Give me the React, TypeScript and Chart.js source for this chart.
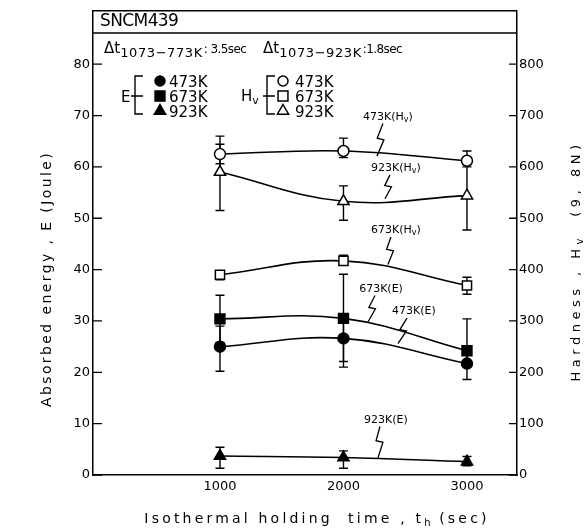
import React, { useEffect, useRef } from 'react';
import { Chart, registerables } from 'chart.js';

Chart.register(...registerables);

// ---------- data ----------
const times = [1000, 2000, 3000];
const xTicks = [1000, 2000, 3000];
const eTicks = [0, 10, 20, 30, 40, 50, 60, 70, 80];
const hvTicks = [0, 100, 200, 300, 400, 500, 600, 700, 800];

// Absorbed energy E (Joule)
const e473 = [25.0, 26.6, 21.7];
const e473Lo = [20.2, 21.0, 18.6];
const e473Hi = [29.0, 30.0, 24.0];
const e673 = [30.4, 30.5, 24.2];
const e673Lo = [25.8, 22.1, 21.5];
const e673Hi = [35.0, 39.1, 30.4];
const e923 = [3.7, 3.4, 2.6];
const e923Lo = [1.3, 1.3, 1.8];
const e923Hi = [5.4, 4.7, 3.6];

// Hardness Hv
const hv473 = [625, 631, 612];
const hv473Lo = [606, 618, 600];
const hv473Hi = [660, 656, 631];
const hv673 = [390, 417, 369];
const hv673Lo = [380, 409, 352];
const hv673Hi = [398, 428, 385];
const hv923 = [590, 533, 544];
const hv923Lo = [515, 496, 477];
const hv923Hi = [644, 563, 611];

const legendTemps = ['473K', '673K', '923K'];

// ---------- styling / layout ----------
const FONT = '"DejaVu Sans"';
const X_MIN = -28;
const X_MAX = 3405;
const E_MAX = 90.4;
const HV_MAX = 904;

type Series = {
  vals: number[];
  lo: number[];
  hi: number[];
  axis: 'y' | 'y1';
  style: 'circle' | 'rect' | 'triangle';
  filled: boolean;
  r: number;
};

const series: Series[] = [
  { vals: hv473, lo: hv473Lo, hi: hv473Hi, axis: 'y1', style: 'circle', filled: false, r: 5.5 },
  { vals: hv923, lo: hv923Lo, hi: hv923Hi, axis: 'y1', style: 'triangle', filled: false, r: 6.5 },
  { vals: hv673, lo: hv673Lo, hi: hv673Hi, axis: 'y1', style: 'rect', filled: false, r: 6.5 },
  { vals: e673, lo: e673Lo, hi: e673Hi, axis: 'y', style: 'rect', filled: true, r: 7 },
  { vals: e473, lo: e473Lo, hi: e473Hi, axis: 'y', style: 'circle', filled: true, r: 5.5 },
  { vals: e923, lo: e923Lo, hi: e923Hi, axis: 'y', style: 'triangle', filled: true, r: 6.5 },
];

// annotation labels: label centre (time, E-units), leader end on curve (time, E-units)
type Ann = { main: string; sub: string; lx: number; ly: number; ex: number; ey: number; sdx: number };
const annotations: Ann[] = [
  { main: '473K(H', sub: 'v', lx: 2360, ly: 70.0, ex: 2271, ey: 62.1, sdx: -5 },
  { main: '923K(H', sub: 'v', lx: 2425, ly: 60.0, ex: 2336, ey: 53.8, sdx: -6 },
  { main: '673K(H', sub: 'v', lx: 2425, ly: 47.9, ex: 2360, ey: 41.0, sdx: -5 },
  { main: '673K(E', sub: '', lx: 2304, ly: 36.5, ex: 2198, ey: 29.8, sdx: -6 },
  { main: '473K(E', sub: '', lx: 2571, ly: 32.1, ex: 2441, ey: 25.6, sdx: -7 },
  { main: '923K(E', sub: '', lx: 2344, ly: 11.0, ex: 2279, ey: 3.3, sdx: -6 },
];

type Run = { t: string; size: number; dy?: number; ls?: number };

function setRun(ctx: CanvasRenderingContext2D, r: Run) {
  ctx.font = `${r.size}px ${FONT}`;
  (ctx as any).letterSpacing = `${r.ls || 0}px`;
}
function runsWidth(ctx: CanvasRenderingContext2D, runs: Run[]) {
  let w = 0;
  for (const r of runs) {
    setRun(ctx, r);
    w += ctx.measureText(r.t).width;
  }
  (ctx as any).letterSpacing = '0px';
  return w;
}
function drawRuns(ctx: CanvasRenderingContext2D, x: number, y: number, runs: Run[]) {
  let cx = x;
  for (const r of runs) {
    setRun(ctx, r);
    ctx.fillText(r.t, cx, y + (r.dy || 0));
    cx += ctx.measureText(r.t).width;
  }
  (ctx as any).letterSpacing = '0px';
  return cx;
}

function drawMarker(ctx: CanvasRenderingContext2D, style: string, x: number, y: number, r: number, filled: boolean) {
  ctx.save();
  ctx.beginPath();
  if (style === 'circle') {
    ctx.arc(x, y, r, 0, Math.PI * 2);
  } else if (style === 'rect') {
    const s = r * Math.SQRT1_2;
    ctx.rect(x - s, y - s, 2 * s, 2 * s);
  } else {
    const h = r;
    ctx.moveTo(x, y - h);
    ctx.lineTo(x + h * 0.866, y + h * 0.5);
    ctx.lineTo(x - h * 0.866, y + h * 0.5);
    ctx.closePath();
  }
  ctx.fillStyle = filled ? '#000' : '#fff';
  ctx.fill();
  ctx.lineWidth = 1.5;
  ctx.strokeStyle = '#000';
  ctx.stroke();
  ctx.restore();
}

const errorBarPlugin = {
  id: 'errorBars',
  beforeDatasetsDraw(chart: any) {
    const ctx: CanvasRenderingContext2D = chart.ctx;
    const xs = chart.scales.x;
    ctx.save();
    ctx.strokeStyle = '#000';
    ctx.lineWidth = 1.4;
    series.forEach((s) => {
      const ys = chart.scales[s.axis];
      times.forEach((t, i) => {
        const px = xs.getPixelForValue(t);
        const y1 = ys.getPixelForValue(s.lo[i]);
        const y2 = ys.getPixelForValue(s.hi[i]);
        ctx.beginPath();
        ctx.moveTo(px, y1);
        ctx.lineTo(px, y2);
        ctx.moveTo(px - 4.5, y1);
        ctx.lineTo(px + 4.5, y1);
        ctx.moveTo(px - 4.5, y2);
        ctx.lineTo(px + 4.5, y2);
        ctx.stroke();
      });
    });
    ctx.restore();
  },
};

const decorPlugin = {
  id: 'decor',
  afterDraw(chart: any) {
    const ctx: CanvasRenderingContext2D = chart.ctx;
    const { left, right, top } = chart.chartArea;
    const xs = chart.scales.x;
    const ys = chart.scales.y;
    const ys1 = chart.scales.y1;
    ctx.save();
    ctx.strokeStyle = '#000';
    ctx.fillStyle = '#000';
    ctx.lineWidth = 1.5;

    // frame top + header row
    ctx.beginPath();
    ctx.moveTo(left, top);
    ctx.lineTo(right, top);
    ctx.moveTo(left, 33);
    ctx.lineTo(right, 33);
    ctx.stroke();

    // inward ticks
    ctx.lineWidth = 1.3;
    ctx.beginPath();
    eTicks.forEach((v) => {
      const py = ys.getPixelForValue(v);
      ctx.moveTo(left, py);
      ctx.lineTo(left + 9, py);
    });
    hvTicks.forEach((v) => {
      const py = ys1.getPixelForValue(v);
      ctx.moveTo(right, py);
      ctx.lineTo(right - 8, py);
    });
    ctx.stroke();

    ctx.textBaseline = 'alphabetic';
    ctx.textAlign = 'left';

    // header
    drawRuns(ctx, 100, 26, [{ t: 'SNCM439', size: 17, ls: -0.6 }]);
    let x = drawRuns(ctx, 104, 53, [{ t: 'Δt', size: 15 }]);
    x = drawRuns(ctx, x, 53, [{ t: '1073−773K', size: 13, dy: 4, ls: 0.6 }]);
    drawRuns(ctx, x + 1, 53, [{ t: ': 3.5sec', size: 12, ls: -0.6 }]);
    x = drawRuns(ctx, 263, 53, [{ t: 'Δt', size: 15 }]);
    x = drawRuns(ctx, x, 53, [{ t: '1073−923K', size: 13, dy: 4, ls: 0.6 }]);
    drawRuns(ctx, x + 1, 53, [{ t: ':1.8sec', size: 12, ls: -0.6 }]);

    // legend
    const rowY = [81, 96, 111];
    const styles = ['circle', 'rect', 'triangle'];
    drawRuns(ctx, 121, 102, [{ t: 'E', size: 15 }]);
    drawRuns(ctx, 241, 101, [{ t: 'H', size: 15 }, { t: 'v', size: 11, dy: 3 }]);
    const bracket = (bx: number) => {
      ctx.beginPath();
      ctx.moveTo(bx + 8, 76);
      ctx.lineTo(bx, 76);
      ctx.lineTo(bx, 114);
      ctx.lineTo(bx + 8, 114);
      ctx.moveTo(bx - 4, 96);
      ctx.lineTo(bx + 8, 96);
      ctx.stroke();
    };
    ctx.lineWidth = 1.4;
    bracket(135);
    bracket(267);
    rowY.forEach((ry, i) => {
      const r = styles[i] === 'rect' ? 7 : styles[i] === 'triangle' ? 6.5 : 5;
      drawMarker(ctx, styles[i], 160, ry, r, true);
      drawMarker(ctx, styles[i], 283, ry, r, false);
      ctx.fillStyle = '#000';
      drawRuns(ctx, 169, ry + 6, [{ t: legendTemps[i], size: 15 }]);
      drawRuns(ctx, 295, ry + 6, [{ t: legendTemps[i], size: 15 }]);
    });

    // annotations with lightning leaders
    annotations.forEach((a) => {
      const cx = xs.getPixelForValue(a.lx);
      const cy = ys.getPixelForValue(a.ly);
      const runs: Run[] = [{ t: a.main, size: 11 }];
      if (a.sub) runs.push({ t: a.sub, size: 8, dy: 2 });
      runs.push({ t: ')', size: 11 });
      const w = runsWidth(ctx, runs);
      drawRuns(ctx, cx - w / 2, cy + 4, runs);
      const sx = cx + a.sdx;
      const sy = cy + 8;
      const ex = xs.getPixelForValue(a.ex);
      const ey = ys.getPixelForValue(a.ey);
      const dx = ex - sx;
      const dy = ey - sy;
      ctx.beginPath();
      ctx.lineWidth = 1.3;
      ctx.moveTo(sx, sy);
      ctx.lineTo(sx + dx * 0.45 - 3, sy + dy * 0.45);
      ctx.lineTo(sx + dx * 0.5 + 4, sy + dy * 0.5);
      ctx.lineTo(ex, ey);
      ctx.stroke();
    });

    // axis titles
    const leftRuns: Run[] = [{ t: 'Absorbed energy , E (Joule)', size: 14, ls: 2.4 }];
    ctx.save();
    ctx.translate(46, 279);
    ctx.rotate(-Math.PI / 2);
    drawRuns(ctx, -runsWidth(ctx, leftRuns) / 2, 5, leftRuns);
    ctx.restore();

    const rightRuns: Run[] = [
      { t: 'Hardness , H', size: 13, ls: 4.5 },
      { t: 'v', size: 10, dy: 3, ls: 4.5 },
      { t: '  (9, 8N)', size: 13, ls: 4.5 },
    ];
    ctx.save();
    ctx.translate(575, 261);
    ctx.rotate(-Math.PI / 2);
    drawRuns(ctx, -runsWidth(ctx, rightRuns) / 2, 5, rightRuns);
    ctx.restore();

    const bottomRuns: Run[] = [
      { t: 'Isothermal holding  time , t', size: 14, ls: 3.2 },
      { t: 'h', size: 10, dy: 3, ls: 1 },
      { t: ' (sec)', size: 14, ls: 3.2 },
    ];
    drawRuns(ctx, 317 - runsWidth(ctx, bottomRuns) / 2, 523, bottomRuns);

    ctx.restore();
  },
};

export default function App() {
  const ref = useRef<HTMLCanvasElement | null>(null);

  useEffect(() => {
    if (!ref.current) return;
    const datasets = series.map((s) => ({
      data: times.map((t, i) => ({ x: t, y: s.vals[i] })),
      yAxisID: s.axis,
      borderColor: '#000',
      borderWidth: 1.6,
      tension: 0.4,
      fill: false,
      pointStyle: s.style,
      pointRadius: s.r,
      pointHoverRadius: s.r,
      pointBackgroundColor: s.filled ? '#000' : '#fff',
      pointBorderColor: '#000',
      pointBorderWidth: 1.5,
    }));

    const tickFont = { family: FONT, size: 13 };
    const chart = new Chart(ref.current, {
      type: 'line',
      data: { datasets },
      options: {
        animation: false,
        responsive: false,
        devicePixelRatio: 1,
        layout: { padding: { top: 5, left: 0, right: 0, bottom: 0 } },
        plugins: { legend: { display: false }, tooltip: { enabled: false } },
        events: [],
        scales: {
          x: {
            type: 'linear',
            position: 'bottom',
            min: X_MIN,
            max: X_MAX,
            grid: { display: false, drawTicks: false },
            border: { display: true, color: '#000', width: 1.5 },
            ticks: { color: '#000', font: tickFont, padding: 4, callback: (v: any) => String(v) },
            afterBuildTicks: (s: any) => {
              s.ticks = xTicks.map((v) => ({ value: v }));
            },
            afterFit: (s: any) => {
              s.height = 55;
            },
          },
          y: {
            type: 'linear',
            position: 'left',
            min: 0,
            max: E_MAX,
            grid: { display: false, drawTicks: false },
            border: { display: true, color: '#000', width: 1.5 },
            ticks: { color: '#000', font: tickFont, padding: 3, callback: (v: any) => String(v) },
            afterBuildTicks: (s: any) => {
              s.ticks = eTicks.map((v) => ({ value: v }));
            },
            afterFit: (s: any) => {
              s.width = 93;
            },
          },
          y1: {
            type: 'linear',
            position: 'right',
            min: 0,
            max: HV_MAX,
            grid: { display: false, drawTicks: false },
            border: { display: true, color: '#000', width: 1.5 },
            ticks: { color: '#000', font: tickFont, padding: 2, callback: (v: any) => String(v) },
            afterBuildTicks: (s: any) => {
              s.ticks = hvTicks.map((v) => ({ value: v }));
            },
            afterFit: (s: any) => {
              s.width = 69;
            },
          },
        },
      } as any,
      plugins: [errorBarPlugin, decorPlugin],
    });
    return () => chart.destroy();
  }, []);

  return (
    <div style={{ position: 'absolute', left: 0, top: 0, width: 586, height: 530, background: '#fff' }}>
      <canvas ref={ref} width={586} height={530} style={{ display: 'block' }} />
    </div>
  );
}
